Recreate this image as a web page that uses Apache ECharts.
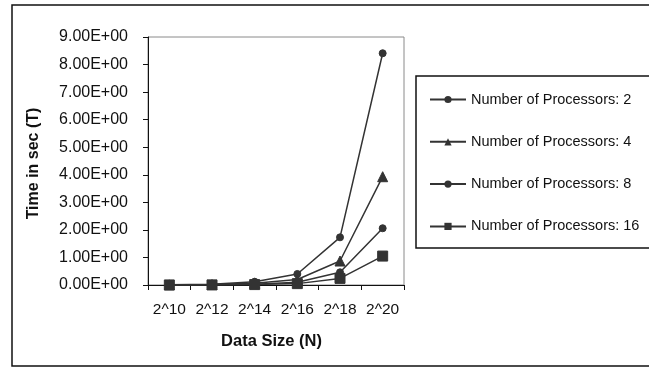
<!DOCTYPE html>
<html><head><meta charset="utf-8">
<script src="https://cdn.jsdelivr.net/npm/echarts@6/dist/echarts.min.js"></script>
<style>html,body{margin:0;padding:0;background:#fff}#c{width:649px;height:368px}</style>
</head><body><div id="c"></div>
<script>
const categories = ['2^10','2^12','2^14','2^16','2^18','2^20'];
const p2 = [0.01, 0.03, 0.12, 0.40, 1.73, 8.41];
const p4 = [0.005, 0.015, 0.06, 0.20, 0.87, 3.93];
const p8 = [0.003, 0.008, 0.03, 0.10, 0.46, 2.06];
const p16 = [0.002, 0.004, 0.015, 0.05, 0.24, 1.05];
const seriesNames = ['Number of Processors: 2','Number of Processors: 4','Number of Processors: 8','Number of Processors: 16'];
const yTicks = [0,1,2,3,4,5,6,7,8,9];

const FONT = 'Liberation Sans, Arial, sans-serif';
const C = '#333333';
const symbols = ['circle','triangle','circle','rect'];
const sizes = [7, 10, 7, 10];
const data = [p2, p4, p8, p16];

const chart = echarts.init(document.getElementById('c'), null, {renderer:'canvas'});
chart.setOption({
  animation: false,
  backgroundColor: '#fff',
  textStyle: {fontFamily: FONT},
  grid: {left: 148, right: 245, top: 37, bottom: 83, show: true, borderColor: '#8a8a8a', borderWidth: 1, backgroundColor: 'transparent'},
  graphic: [
    {type:'rect', shape:{x:12, y:5, width:700, height:361}, style:{fill:'none', stroke:'#111', lineWidth:1.5}, z:0},
    {type:'rect', shape:{x:416, y:76, width:300, height:172}, style:{fill:'none', stroke:'#111', lineWidth:1.5}, z:0}
  ],
  legend: {
    orient: 'vertical', left: 424, top: 87,
    itemWidth: 36, itemHeight: 9, itemGap: 27.3,
    textStyle: {fontFamily: FONT, fontSize: 14.5, color: '#111'},
    data: seriesNames
  },
  xAxis: {
    type: 'category', data: categories, boundaryGap: true,
    axisLine: {lineStyle: {color: '#111', width: 1}},
    axisTick: {show: true, inside: false, length: 5, lineStyle: {color: '#111'}},
    axisLabel: {fontFamily: FONT, fontSize: 15.5, color: '#111', margin: 17, interval: 0},
    name: 'Data Size (N)', nameLocation: 'middle', nameGap: 48,
    nameTextStyle: {fontFamily: FONT, fontSize: 16.5, fontWeight: 'bold', color: '#111', padding: [0, 9, 0, 0]}
  },
  yAxis: {
    type: 'value', min: 0, max: 9, interval: 1,
    axisLine: {show: true, lineStyle: {color: '#111', width: 1}},
    axisTick: {show: true, inside: false, length: 5, lineStyle: {color: '#111'}},
    splitLine: {show: false},
    axisLabel: {fontFamily: FONT, fontSize: 16, color: '#111', margin: 20,
      formatter: v => yTicks.includes(v) ? v.toFixed(2) + 'E+00' : ''},
    name: 'Time in sec (T)', nameLocation: 'middle', nameGap: 106, nameRotate: 90,
    nameTextStyle: {fontFamily: FONT, fontSize: 16, fontWeight: 'bold', color: '#111', padding: [0, 0, 0, -5]}
  },
  series: seriesNames.map((n, i) => ({
    name: n, type: 'line', data: data[i],
    symbol: symbols[i], symbolSize: sizes[i], showAllSymbol: true,
    lineStyle: {color: C, width: 1.5}, itemStyle: {color: C, borderColor: C},
    color: C, z: 3 + i
  }))
});
</script></body></html>
